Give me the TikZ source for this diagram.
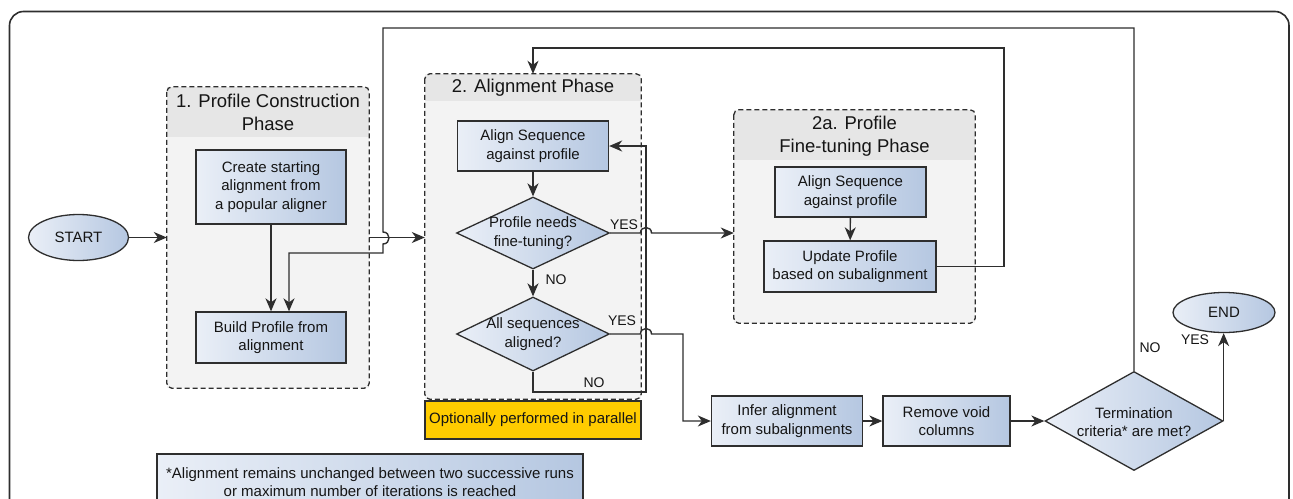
\documentclass[tikz,border=0pt]{standalone}
\usepackage{fontspec}
\setmainfont{Liberation Sans}
\usetikzlibrary{shapes.geometric,arrows.meta}
\definecolor{boxL}{HTML}{EAEFF7}
\definecolor{boxR}{HTML}{B5C7E1}
\definecolor{edge}{HTML}{2E2E2E}
\definecolor{contfill}{HTML}{F3F3F3}
\definecolor{hdrfill}{HTML}{E6E6E6}
\definecolor{yel}{HTML}{FFCC00}
\definecolor{txt}{HTML}{151515}
\begin{document}
\begin{tikzpicture}[x=1pt,y=-1pt,
  every node/.style={text=txt},
  proc/.style={draw=edge, line width=1.3pt, left color=boxL, right color=boxR, align=center, inner sep=0pt, font=\fontsize{15}{18.3}\selectfont},
  oval/.style={proc, ellipse},
  dec/.style={draw=edge, line width=1.3pt, left color=boxL, right color=boxR, diamond, inner sep=0pt},
  cont/.style={fill=contfill, inner sep=0pt, draw=none},
  contborder/.style={draw=edge, line width=1.3pt, dash pattern=on 5pt off 3pt, rounded corners=5pt},
  phasetitle/.style={align=center, inner sep=0pt, font=\fontsize{18.5}{22.5}\selectfont},
  conn/.style={draw=edge, line width=1.4pt},
  arr/.style={conn, -{Stealth[length=13pt,width=11pt,inset=4pt]}},
  lbl/.style={font=\fontsize{14}{16}\selectfont, inner sep=0pt},
  dectext/.style={align=center, inner sep=0pt, font=\fontsize{15}{18.3}\selectfont}
]
\useasboundingbox (0,0) rectangle (1293,498);
\clip (0,0) rectangle (1293,498);
\fill[white] (0,0) rectangle (1293,498);
% outer frame
\draw[line width=1.6pt, draw=edge, rounded corners=14pt] (9.5,11.5) rectangle (1289,540);

% ---------- containers ----------
\node[cont, minimum width=202pt, minimum height=301pt] (p1) at (268,237.5) {};
\node[cont, minimum width=216pt, minimum height=325pt] (p2) at (533,236.5) {};
\node[cont, minimum width=241pt, minimum height=213pt] (p2a) at (854.5,216.5) {};
\begin{scope}
\clip[rounded corners=5pt] (167,87) rectangle (369,388);
\fill[hdrfill] (167,87) rectangle (369,137);
\end{scope}
\begin{scope}
\clip[rounded corners=5pt] (425,74) rectangle (641,399);
\fill[hdrfill] (425,74) rectangle (641,101);
\end{scope}
\begin{scope}
\clip[rounded corners=5pt] (734,110) rectangle (975,323);
\fill[hdrfill] (734,110) rectangle (975,160);
\end{scope}
\draw[contborder] (p1.north west) rectangle (p1.south east);
\draw[contborder] (p2.north west) rectangle (p2.south east);
\draw[contborder] (p2a.north west) rectangle (p2a.south east);
\node[phasetitle] (t1) at (268,112.5) {1. Profile Construction\\Phase};
\node[phasetitle] (t2) at (533,88) {2. Alignment Phase};
\node[phasetitle] (t2a) at (854.5,136) {2a. Profile\\Fine-tuning Phase};

% ---------- nodes ----------
\node[oval, minimum width=100pt, minimum height=46pt] (start) at (78.5,237.5) {START};
\node[proc, minimum width=150pt, minimum height=74pt] (create) at (271,187) {Create starting\\alignment from\\a popular aligner};
\node[proc, minimum width=150pt, minimum height=51pt] (build) at (271,337.5) {Build Profile from\\alignment};
\node[proc, minimum width=151pt, minimum height=50pt] (a1) at (533,146) {Align Sequence\\against profile};
\node[dec, minimum width=153pt, minimum height=72pt] (d1) at (533,233) {};
\node[dectext] (d1t) at (533,233) {Profile needs\\fine-tuning?};
\node[dec, minimum width=153pt, minimum height=74pt] (d2) at (533,334) {};
\node[dectext] (d2t) at (533,334) {All sequences\\aligned?};
\node[proc, minimum width=151pt, minimum height=50pt] (a2) at (850.5,192) {Align Sequence\\against profile};
\node[proc, minimum width=172pt, minimum height=51pt] (upd) at (850,266.5) {Update Profile\\based on subalignment};
\node[draw=edge, line width=1.3pt, fill=yel, minimum width=216pt, minimum height=38pt, inner sep=0pt, font=\fontsize{15}{18}\selectfont] (par) at (533,420) {Optionally performed in parallel};
\node[proc, minimum width=151pt, minimum height=50pt] (infer) at (787,421) {Infer alignment\\from subalignments};
\node[proc, minimum width=127pt, minimum height=50pt] (remove) at (946.5,421) {Remove void\\columns};
\node[dec, minimum width=178pt, minimum height=99pt] (term) at (1134,421) {};
\node[dectext] (termt) at (1134,422) {Termination\\criteria* are met?};
\node[oval, minimum width=102pt, minimum height=40pt] (end) at (1224,312.5) {END};
\node[proc, minimum width=426pt, minimum height=56pt] (note) at (370,482) {*Alignment remains unchanged between two successive runs\\or maximum number of iterations is reached};

\coordinate (b2) at ([xshift=18pt]build.north);

% ---------- connectors ----------
\draw[arr] (start.east) -- (start.east -| p1.west);
\draw[arr] (p1.east) -- (p1.east -| p2.west);
\draw[arr] (create) -- (build);
\draw[arr] (term.north) -- (1134,28) -- (383,28) -- (383,232) .. controls (391,232) and (391,244) .. (383,244) -- (383,253) -- (289,253) -- (b2);
\draw[arr] (a1) -- (d1);
\draw[arr] (d1) -- (d2);
\draw[arr] (d2.south) -- (533,392) -- (646,392) -- (646,146) -- (a1.east);
\draw[arr] (d1.east) -- (640.5,233) .. controls (640.5,225.7) and (651.5,225.7) .. (651.5,233) -- (d1.east -| p2a.west);
\draw[arr] (d2.east) -- (640.5,334) .. controls (640.5,326.7) and (651.5,326.7) .. (651.5,334) -- (683,334) -- (683,421) -- (infer.west);
\draw[arr] (a2) -- (upd);
\draw[arr] (upd.east) -- (1004,266.5) -- (1004,48) -- (533,48) -- (p2.north);
\draw[arr] (infer) -- (remove);
\draw[arr] (remove) -- (term);
\draw[arr] (term.east) -- (term.east |- end.south);

% ---------- labels ----------
\node[lbl] (y1) at (624,225) {YES};
\node[lbl] (y2) at (622,321) {YES};
\node[lbl] (n1) at (556,280) {NO};
\node[lbl] (n2) at (594,383) {NO};
\node[lbl] (n3) at (1150,348) {NO};
\node[lbl] (y3) at (1195,340) {YES};
\end{tikzpicture}
\end{document}
